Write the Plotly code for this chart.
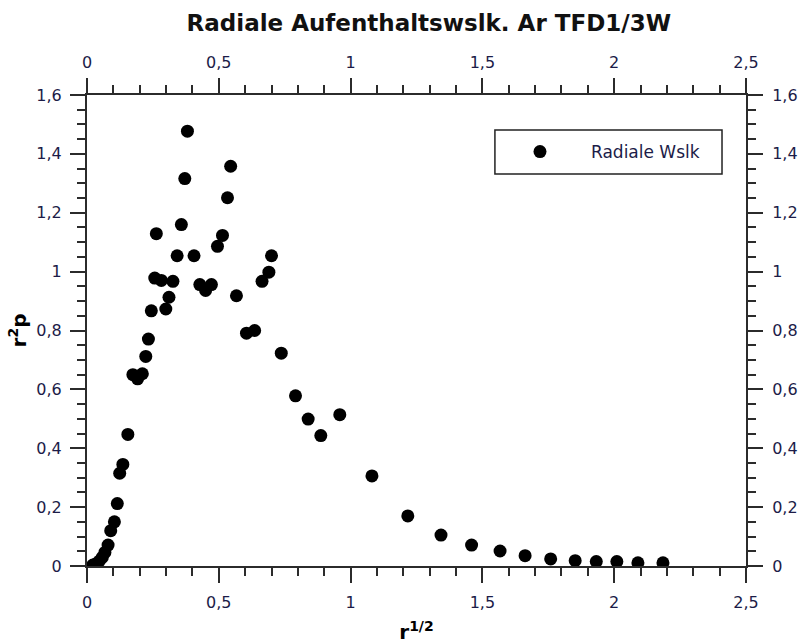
import plotly.graph_objects as go

# Radial probability samples: x = r^(1/2), y = r^2 p
r_sqrt = [
    0.022, 0.035, 0.047, 0.058, 0.068, 0.080, 0.090, 0.104, 0.115, 0.124,
    0.136, 0.155, 0.174, 0.192, 0.210, 0.223, 0.233, 0.244, 0.257, 0.263,
    0.282, 0.299, 0.311, 0.326, 0.342, 0.358, 0.371, 0.381, 0.406, 0.428,
    0.450, 0.472, 0.495, 0.514, 0.533, 0.545, 0.567, 0.605, 0.636, 0.664,
    0.690, 0.700, 0.737, 0.791, 0.839, 0.887, 0.959, 1.081, 1.217, 1.343,
    1.459, 1.567, 1.662, 1.759, 1.852, 1.932, 2.010, 2.090, 2.185,
]
r2_p = [
    0.003, 0.008, 0.017, 0.029, 0.046, 0.071, 0.120, 0.150, 0.212, 0.315,
    0.345, 0.447, 0.650, 0.636, 0.653, 0.712, 0.771, 0.867, 0.978, 1.129,
    0.970, 0.873, 0.913, 0.967, 1.054, 1.160, 1.316, 1.477, 1.054, 0.956,
    0.936, 0.956, 1.086, 1.123, 1.251, 1.358, 0.918, 0.791, 0.800, 0.967,
    0.998, 1.054, 0.723, 0.578, 0.499, 0.443, 0.514, 0.306, 0.170, 0.105,
    0.071, 0.051, 0.035, 0.024, 0.018, 0.015, 0.015, 0.011, 0.011,
]

series_name = "Radiale Wslk"
title_text = "Radiale Aufenthaltswslk. Ar TFD1/3W"
x_title = "<b>r</b><sup><b>1/2</b></sup>"
y_title = "<b>r<sup>2</sup>p</b>"

x_range = [0, 2.5]
y_range = [0, 1.6]

FONT = "DejaVu Sans"
AX_COL = "#2b2b2b"
TICK_COL = "#1c1c48"

fig = go.Figure()
fig.add_trace(go.Scatter(
    x=r_sqrt, y=r2_p, mode="markers", name=series_name,
    marker=dict(color="black", size=13, line=dict(width=0)),
))
# empty trace so the mirrored top/right axes get drawn with labels
fig.add_trace(go.Scatter(
    x=[], y=[], xaxis="x2", yaxis="y2", showlegend=False, hoverinfo="skip",
))

common = dict(
    showline=True, linecolor=AX_COL, linewidth=2,
    ticks="outside", ticklen=15, tickwidth=2, tickcolor=AX_COL,
    showgrid=False, zeroline=False, automargin=False,
    tickfont=dict(family=FONT, size=16, color=TICK_COL),
)
x_common = dict(common, range=x_range, dtick=0.5, tick0=0,
                minor=dict(dtick=0.1, ticks="outside", ticklen=8,
                           tickwidth=2, tickcolor=AX_COL))
y_common = dict(common, range=y_range, dtick=0.2, tick0=0,
                minor=dict(dtick=0.05, ticks="outside", ticklen=8,
                           tickwidth=2, tickcolor=AX_COL))

fig.update_layout(
    width=803, height=644,
    margin=dict(l=87, r=57, t=95, b=78),
    paper_bgcolor="white", plot_bgcolor="white",
    separators=",.",
    font=dict(family=FONT, color="black"),
    title=dict(text="<b>" + title_text + "</b>", x=0.534, xanchor="center",
               y=0.965, yanchor="middle", automargin=False,
               font=dict(family=FONT, size=23, color="#111111")),
    xaxis=dict(x_common, ticklabelstandoff=6,
               title=dict(text=x_title, standoff=14,
                          font=dict(family=FONT, size=20, color="black"))),
    xaxis2=dict(x_common, overlaying="x", side="top", anchor="y",
                ticklabelstandoff=4),
    yaxis=dict(y_common, ticklabelstandoff=5,
               title=dict(text=y_title, standoff=4,
                          font=dict(family=FONT, size=20, color="black"))),
    yaxis2=dict(y_common, overlaying="y", side="right", anchor="x",
                ticklabelstandoff=6),
    showlegend=True,
    legend=dict(
        x=0.610, y=0.879, xanchor="left", yanchor="middle",
        bgcolor="rgba(0,0,0,0)", borderwidth=0,
        font=dict(family=FONT, size=17, color=TICK_COL),
        itemwidth=92,
    ),
    # legend frame
    shapes=[dict(
        type="rect", xref="paper", yref="paper",
        x0=0.619, x1=0.9636, y0=0.8323, y1=0.9257,
        line=dict(color="#222222", width=1.5), fillcolor="white",
        layer="below",
    )],
)

fig.write_html("out.html")
